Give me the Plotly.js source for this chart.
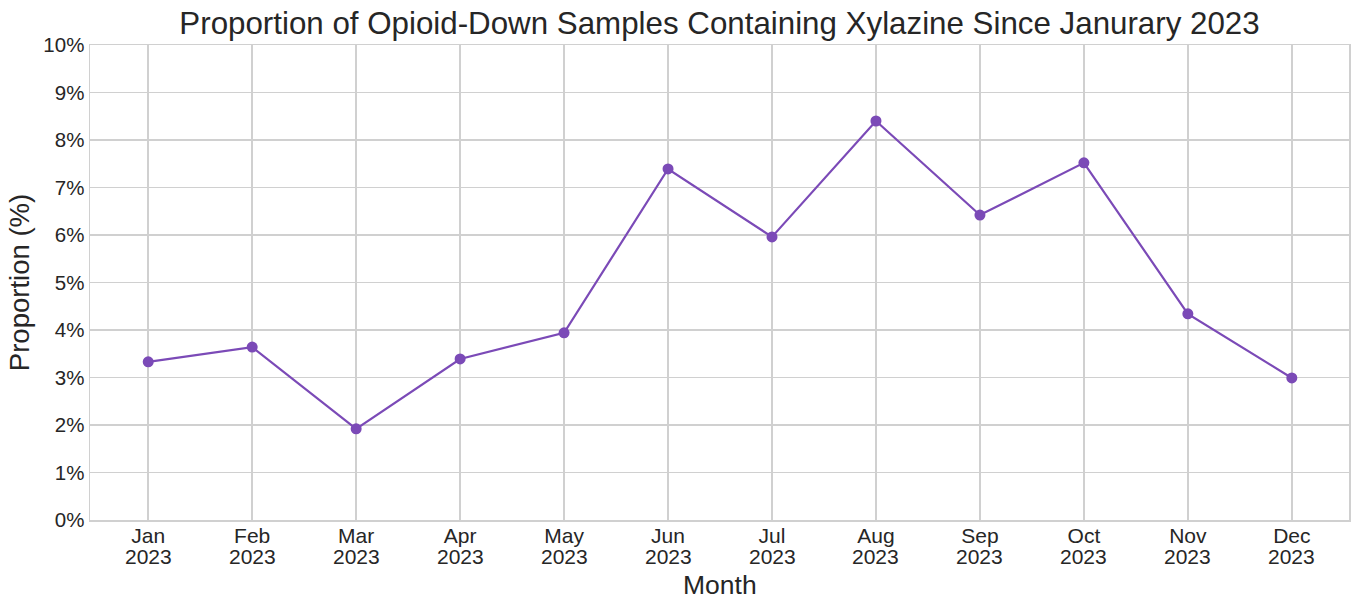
<!DOCTYPE html>
<html>
<head>
<meta charset="utf-8">
<script src="https://cdn.plot.ly/plotly-3.0.1.min.js"></script>
<style>html,body{margin:0;padding:0;background:#fff;}#chart{width:1353px;height:599px;}</style>
</head>
<body>
<div id="chart"></div>
<script>
const monthNames = ["Jan","Feb","Mar","Apr","May","Jun","Jul","Aug","Sep","Oct","Nov","Dec"];
const years = ["2023","2023","2023","2023","2023","2023","2023","2023","2023","2023","2023","2023"];
const proportion = [3.33, 3.64, 1.92, 3.39, 3.94, 7.39, 5.96, 8.40, 6.42, 7.52, 4.34, 2.99];
const yTicks = [0,1,2,3,4,5,6,7,8,9,10];
const yTickText = yTicks.map(v => v + "%");

const xIdx = monthNames.map((_, i) => i);
const font = "Liberation Sans, Arial, sans-serif";
const txt = "#262626";
const trace = {
  x: xIdx, y: proportion, type: "scatter", mode: "lines+markers",
  line: {color: "#7b4ab7", width: 2.2},
  marker: {color: "#7b4ab7", size: 11},
  hoverinfo: "skip"
};
const yearAnns = years.map((yr, i) => ({
  text: yr, xref: "x", yref: "paper", x: i, y: -0.077,
  xanchor: "center", yanchor: "middle", showarrow: false,
  font: {size: 21, family: font, color: txt}
}));
const layout = {
  width: 1353, height: 599,
  margin: {l: 90, r: 4, t: 45, b: 79},
  paper_bgcolor: "#fff", plot_bgcolor: "#fff",
  showlegend: false,
  font: {family: font, color: txt},
  title: {text: "Proportion of Opioid-Down Samples Containing Xylazine Since Janurary 2023", font: {size: 31.3, family: font, color: txt}, xref: "paper", x: 0.5, xanchor: "center", yref: "container", y: 0.962, yanchor: "middle"},
  xaxis: {
    range: [-0.56, 11.55], tickmode: "array", tickvals: xIdx, ticktext: monthNames,
    showgrid: true, gridcolor: "#d0d0d0", gridwidth: 1.5, zeroline: false,
    showline: true, linecolor: "#d0d0d0", linewidth: 1.5, mirror: true,
    ticks: "", ticklabelstandoff: -4, tickfont: {size: 21, family: font, color: txt}
  },
  yaxis: {
    range: [0, 10], tickmode: "array", tickvals: yTicks, ticktext: yTickText,
    showgrid: true, gridcolor: "#d0d0d0", gridwidth: 1.5, zeroline: false,
    showline: true, linecolor: "#d0d0d0", linewidth: 1.5, mirror: true,
    ticks: "", ticklen: 0, tickfont: {size: 20.5, family: font, color: txt},
    title: {text: "Proportion (%)", font: {size: 27.5, family: font, color: txt}, standoff: 5}
  },
  annotations: yearAnns.concat([{
    text: "Month", xref: "paper", yref: "paper", x: 0.5, y: -0.137,
    xanchor: "center", yanchor: "middle", showarrow: false,
    font: {size: 26.5, family: font, color: txt}
  }])
};
Plotly.newPlot("chart", [trace], layout, {displayModeBar: false, staticPlot: true});
</script>
</body>
</html>
